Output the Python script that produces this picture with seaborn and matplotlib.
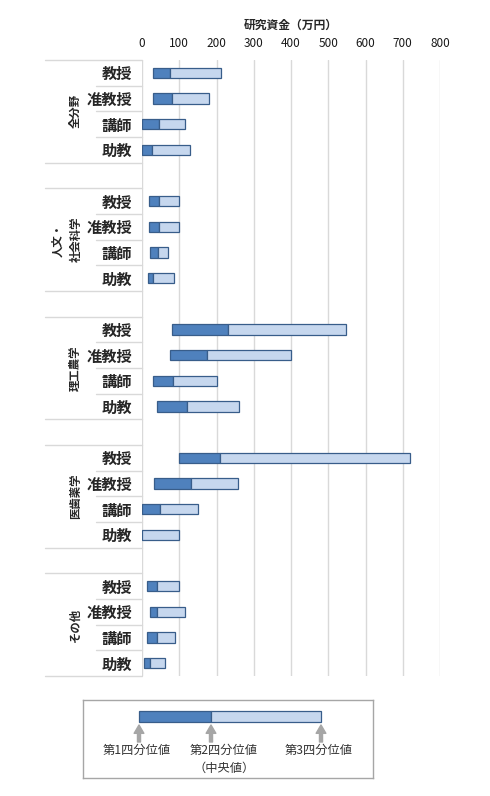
import numpy as np
import pandas as pd
import matplotlib
matplotlib.use("Agg")
import matplotlib.pyplot as plt
import seaborn as sns

# ==========================================
# DATA
# ==========================================
groups = ["全分野", "人文・\n社会科学", "理工農学", "医歯薬学", "その他"]
titles = ["教授", "准教授", "講師", "助教"]

q1 = [30, 30, 0, 0,
      19, 19, 22, 16,
      80, 75, 30, 40,
      100, 31, 0, 0,
      13, 21, 13, 5]
median = [74, 80, 45, 27,
          46, 45, 44, 30,
          230, 175, 84, 121,
          210, 131, 49, 0,
          41, 40, 40, 22]
q3 = [211, 181, 115, 130,
      99, 98, 70, 86,
      548, 400, 200, 260,
      720, 259, 150, 100,
      99, 115, 89, 62]

x_ticks = [0, 100, 200, 300, 400, 500, 600, 700, 800]
axis_title = "研究資金（万円）"
legend_labels = ["第1四分位値", "第2四分位値\n（中央値）", "第3四分位値"]

# ==========================================
# STYLE
# ==========================================
sns.set_theme(style="white")
plt.rcParams["font.family"] = ["Noto Sans CJK JP", "DejaVu Sans"]
plt.rcParams["font.size"] = 8.5

DARK = "#4F81BD"
LIGHT = "#C6D7EE"
EDGE = "#385D8A"
GRID = "#D9D9D9"

n_per = len(titles)
df = pd.DataFrame({
    "group": np.repeat(np.arange(len(groups)), n_per),
    "title": titles * len(groups),
    "q1": q1, "median": median, "q3": q3,
})
# one blank row after every group
df["row"] = df["group"] * (n_per + 1) + np.tile(np.arange(n_per), len(groups))
n_rows = len(groups) * (n_per + 1) - 1

W, H = 490, 796
fig = plt.figure(figsize=(W / 100, H / 100), dpi=100)
ax = fig.add_axes([142 / W, 1 - 676 / H, 298 / W, 616 / H])

# ==========================================
# BARS: Q1 -> median (dark), median -> Q3 (light)
# ==========================================
ax.barh(df["row"], df["median"] - df["q1"], left=df["q1"], height=0.4,
        color=DARK, edgecolor=EDGE, linewidth=0.9, zorder=3)
ax.barh(df["row"], df["q3"] - df["median"], left=df["median"], height=0.4,
        color=LIGHT, edgecolor=EDGE, linewidth=0.9, zorder=3)

ax.set_xlim(0, 800)
ax.set_ylim(n_rows - 0.5, -0.5)
ax.set_xticks(x_ticks)
ax.xaxis.tick_top()
ax.xaxis.set_label_position("top")
ax.set_xlabel(axis_title, fontweight="bold", fontsize=8.5, labelpad=6)
ax.tick_params(axis="x", length=0, pad=7, labelcolor="#1a1a1a", labelsize=8.5)
ax.set_yticks(df["row"], df["title"], fontweight="bold")
ax.tick_params(axis="y", length=0, pad=7)
ax.grid(axis="x", color=GRID, linewidth=1, zorder=0)
ax.grid(axis="y", visible=False)
for s in ax.spines.values():
    s.set_visible(False)

# multi-level category separators + group labels
trans = ax.get_yaxis_transform()
full_left = (45 - 142) / 298
sub_left = (96 - 142) / 298
for g, name in enumerate(groups):
    top = g * (n_per + 1) - 0.5
    for y in (top, top + n_per):
        ax.plot([full_left, 0], [y, y], transform=trans, clip_on=False,
                color=GRID, linewidth=1)
    for k in range(1, n_per):
        ax.plot([sub_left, 0], [top + k, top + k], transform=trans,
                clip_on=False, color=GRID, linewidth=1)
    xpos = (75.5 - 142) / 298 if "\n" not in name else (67 - 142) / 298
    ax.text(xpos, top + n_per / 2, name, transform=trans, rotation=90,
            ha="center", va="center", fontweight="bold", fontsize=8.2,
            linespacing=1.6, multialignment="center")

# ==========================================
# LEGEND SCHEMATIC
# ==========================================
leg = fig.add_axes([83 / W, 1 - 778 / H, 290 / W, 78 / H])
leg.set_xlim(83, 373)
leg.set_ylim(778, 700)
leg.set_xticks([])
leg.set_yticks([])
for s in leg.spines.values():
    s.set_color("#A6A6A6")
    s.set_linewidth(1)

legend_q = [139, 211, 321]
leg.barh([716.5], [legend_q[1] - legend_q[0]], left=[legend_q[0]], height=11.5,
         color=DARK, edgecolor=EDGE, linewidth=0.9)
leg.barh([716.5], [legend_q[2] - legend_q[1]], left=[legend_q[1]], height=11.5,
         color=LIGHT, edgecolor=EDGE, linewidth=0.9)
text_x = [137, 224, 319]
for xq, xt, lab in zip(legend_q, text_x, legend_labels):
    leg.annotate("", xy=(xq, 725), xytext=(xq, 742),
                 arrowprops=dict(width=2.2, headwidth=7, headlength=6,
                                 color="#A6A6A6", shrink=0))
    leg.text(xt, 744, lab, ha="center", va="top", fontsize=8.8,
             color="#333333", linespacing=1.5)

fig.savefig("out.png", dpi=100)
plt.close(fig)
